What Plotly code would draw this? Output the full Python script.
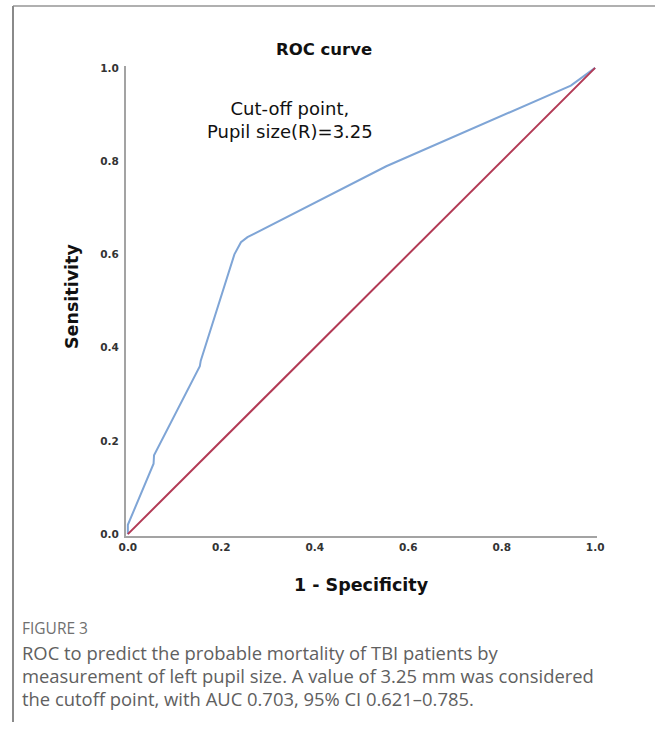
import plotly.graph_objects as go

# ROC curve data (1 - specificity, sensitivity)
fpr = [0.0, 0.0, 0.055, 0.056, 0.154, 0.156, 0.228, 0.242, 0.256, 0.553, 0.948, 1.0]
tpr = [0.0, 0.02, 0.151, 0.169, 0.360, 0.372, 0.600, 0.626, 0.637, 0.789, 0.962, 1.0]
ref_x = [0.0, 1.0]
ref_y = [0.0, 1.0]
tick_vals = [0.0, 0.2, 0.4, 0.6, 0.8, 1.0]
tick_text = ["0.0", "0.2", "0.4", "0.6", "0.8", "1.0"]

W, H = 655, 731
L, R, T, B = 126, 58, 66, 195
pw, ph = W - L - R, H - T - B

def px(x):
    return (x - L) / pw

def py(y):
    return (H - B - y) / ph

fig = go.Figure()
fig.add_trace(go.Scatter(x=fpr, y=tpr, mode="lines",
                         line=dict(color="#7fa5d6", width=2), hoverinfo="skip"))
fig.add_trace(go.Scatter(x=ref_x, y=ref_y, mode="lines",
                         line=dict(color="#b23a55", width=2), hoverinfo="skip"))

axis_common = dict(range=[-0.004, 1.004], showgrid=False, zeroline=False,
                   showline=True, linecolor="#a3a3a3", linewidth=2,
                   tickvals=tick_vals, ticktext=tick_text, ticks="",
                   tickfont=dict(family="DejaVu Sans", size=10.5, color="#333333", weight="bold"))
fig.update_xaxes(**axis_common)
fig.update_yaxes(**axis_common, ticklabelstandoff=3)

chart_font = "DejaVu Sans"
ann = []
ann.append(dict(text="ROC curve", x=px(324), y=py(50), font=dict(family=chart_font, size=16.5, color="#111", weight="bold")))
ann.append(dict(text="Cut-off point,<br>Pupil size(R)=3.25", x=px(290), y=py(120),
                font=dict(family=chart_font, size=18, color="#111")))
ann.append(dict(text="Sensitivity", x=px(72), y=py(297), textangle=-90, font=dict(family=chart_font, size=17.5, color="#111", weight="bold")))
ann.append(dict(text="1 - Specificity", x=px(361), y=py(585), font=dict(family=chart_font, size=17.5, color="#111", weight="bold")))

cap_font = "Open Sans"
ann.append(dict(text="FIGURE 3", x=px(20), y=py(628), xanchor="left", font=dict(family=cap_font, size=15.5, color="#707070")))
cap_lines = ["ROC to predict the probable mortality of TBI patients by",
             "measurement of left pupil size. A value of 3.25 mm was considered",
             "the cutoff point, with AUC 0.703, 95% CI 0.621\u20130.785."]
for i, line in enumerate(cap_lines):
    ann.append(dict(text=line, x=px(20), y=py(652 + 23 * i), xanchor="left",
                    font=dict(family=cap_font, size=18.4, color="#606060")))

for a in ann:
    a.setdefault("xanchor", "center")
    a.update(xref="paper", yref="paper", yanchor="middle", showarrow=False)
fig.update_layout(annotations=ann)

shapes = [
    dict(type="line", xref="paper", yref="paper", x0=px(13), x1=px(655), y0=py(6), y1=py(6),
         line=dict(color="#b0b0b0", width=2)),
    dict(type="line", xref="paper", yref="paper", x0=px(13), x1=px(13), y0=py(6), y1=py(722),
         line=dict(color="#8a8a8a", width=2)),
]
fig.update_layout(shapes=shapes)

fig.update_layout(width=W, height=H, margin=dict(l=L, r=R, t=T, b=B, autoexpand=False),
                  showlegend=False, paper_bgcolor="white", plot_bgcolor="white")

fig.write_html("out.html", config={"displayModeBar": False},
               post_script="document.body.style.margin='0';document.body.style.overflow='hidden';")
